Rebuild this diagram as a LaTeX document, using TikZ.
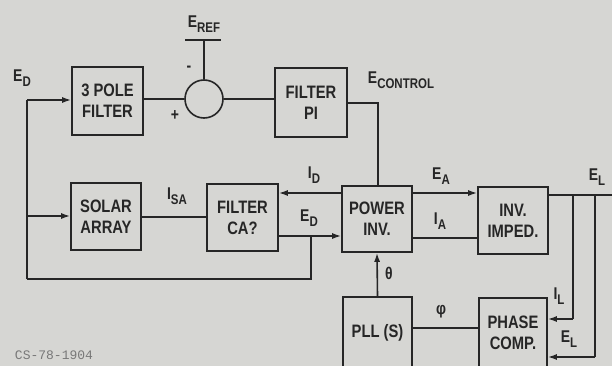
\documentclass[tikz,border=0pt]{standalone}
\usepackage{fontspec}
\setmainfont{Liberation Sans}[FakeStretch=0.82]
\newfontfamily\codefont{Liberation Mono}
\usetikzlibrary{arrows.meta}
\definecolor{bg}{RGB}{214,214,211}
\definecolor{ink}{RGB}{38,38,38}
\definecolor{faint}{RGB}{120,120,120}
\newcommand\blkfont{\bfseries\fontsize{18}{21}\selectfont}
\newcommand\labfont{\bfseries\fontsize{17}{19}\selectfont}
\newcommand\lsub[1]{\raisebox{-4.5pt}{\fontsize{14}{14}\selectfont #1}}
\begin{document}
\begin{tikzpicture}[x=1pt,y=-1pt,
  box/.style={draw=ink,line width=1.6pt,inner sep=0pt,align=center,font=\blkfont,text=ink},
  ln/.style={draw=ink,line width=1.6pt},
  arr/.style={ln,-{Latex[length=9pt,width=6pt]}},
  lab/.style={text=ink,font=\labfont,inner sep=0pt}
]
\fill[bg] (0,0) rectangle (612,366);
\useasboundingbox (0,0) rectangle (612,366);
\clip (0,0) rectangle (612,366);

% blocks
\node[box,minimum width=71pt,minimum height=68pt] (pole) at (107.5,101) {3 POLE\\FILTER};
\node[box,minimum width=72pt,minimum height=69pt] (pi) at (311,102.5) {FILTER\\PI};
\node[box,minimum width=70pt,minimum height=67pt] (solar) at (106,216.5) {SOLAR\\ARRAY};
\node[box,minimum width=71pt,minimum height=67pt] (cap) at (242.5,217.5) {FILTER\\CA?};
\node[box,minimum width=70pt,minimum height=66pt] (inv) at (377,219) {POWER\\INV.};
\node[box,minimum width=70pt,minimum height=67pt] (imp) at (513,220.5) {INV.\\IMPED.};
\node[box,minimum width=69pt,minimum height=71pt] (pll) at (377.5,332.5) {PLL (S)};
\node[box,minimum width=68pt,minimum height=70pt] (pc) at (513,333) {PHASE\\COMP.};
\node[draw=ink,line width=1.6pt,circle,minimum size=38pt,inner sep=0pt] (sum) at (204,99) {};

% reference bar
\coordinate (refL) at (185,40);
\coordinate (refR) at (221,40);
\coordinate (refM) at (204,40);
\draw[ln] (refL) -- (refR);
\draw[ln] (refM) -- (sum.north);

% top loop
\draw[ln] (pole.east |- sum.west) -- (sum.west);
\draw[ln] (sum.east) -- (pi.west |- sum.east);
\coordinate (ctl) at (378,103);
\draw[ln] (pi.east |- ctl) -- (ctl) -- (ctl |- inv.north);

% left feedback
\coordinate (lt) at (27,100);
\coordinate (lm) at (27,216);
\coordinate (lb) at (27,279);
\coordinate (rb) at (311,279);
\coordinate (edj) at (311,236);
\draw[ln] (lb) -- (lt);
\draw[arr] (lt) -- (pole.west |- lt);
\draw[arr] (lm) -- (solar.west |- lm);
\draw[ln] (edj) -- (rb) -- (lb);

% middle row
\draw[ln] (solar.east |- 0,217) -- (cap.west |- 0,217);
\draw[arr] (inv.west |- 0,193) -- (cap.east |- 0,193);
\draw[arr] (cap.east |- 0,236) -- (inv.west |- 0,236);
\draw[arr] (inv.east |- 0,193) -- (imp.west |- 0,193);
\draw[ln] (inv.east |- 0,238) -- (imp.west |- 0,238);

% load side
\coordinate (eout) at (612,195);
\coordinate (v1) at (573,195);
\coordinate (v2) at (595,195);
\coordinate (v1b) at (573,319);
\coordinate (v2b) at (595,357);
\draw[ln] (imp.east |- eout) -- (eout);
\draw[ln] (v1) -- (v1b);
\draw[ln] (v2) -- (v2b);
\draw[arr] (v1b) -- (pc.east |- v1b);
\draw[arr] (v2b) -- (pc.east |- v2b);

% bottom row
\draw[arr] (pll.north) -- (inv.south);
\draw[ln] (pll.east |- 0,328) -- (pc.west |- 0,328);

% labels
\node[lab] (lED1) at (22,78) {E\lsub{D}};
\node[lab] (lEREF) at (204,24) {E\lsub{REF}};
\node[lab] (lminus) at (189,69) {-};
\node[lab] (lplus) at (175,116) {+};
\node[lab] (lECTL) at (401,80) {E\lsub{CONTROL}};
\node[lab] (lID) at (314,175) {I\lsub{D}};
\node[lab] (lED2) at (309,218) {E\lsub{D}};
\node[lab] (lISA) at (177,196) {I\lsub{SA}};
\node[lab] (lEA) at (441,176) {E\lsub{A}};
\node[lab] (lIA) at (440,221) {I\lsub{A}};
\node[lab] (lEL1) at (597,177) {E\lsub{L}};
\node[lab] (lth) at (389,273) {θ};
\node[lab] (lIL) at (559,296) {I\lsub{L}};
\node[lab] (lphi) at (441,312) {φ};
\node[lab] (lEL2) at (569,339) {E\lsub{L}};
\node[text=faint,font=\codefont\fontsize{13}{13}\selectfont,inner sep=0pt] (code) at (54,355) {CS-78-1904};
\end{tikzpicture}
\end{document}
